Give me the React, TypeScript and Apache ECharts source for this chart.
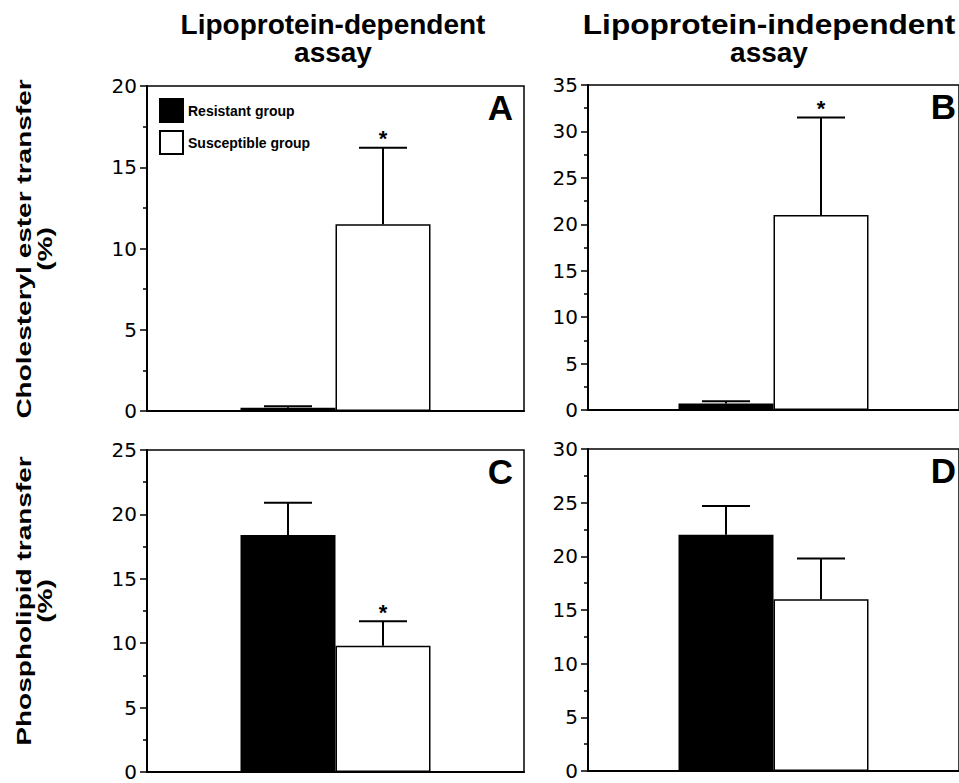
import React, { useEffect, useRef } from "react";
import * as echarts from "echarts";

// ---- data ----
const categories = ["Group"];
const panelLetters = ["A", "B", "C", "D"];
const seriesNames = ["Resistant group", "Susceptible group"];
const resistantMean = [0.2, 0.7, 18.4, 22.0];
const resistantSem = [0.1, 0.25, 2.5, 2.7];
const susceptibleMean = [11.5, 21.0, 9.8, 16.0];
const susceptibleSem = [4.7, 10.5, 1.9, 3.8];
const susceptibleSignificant = [true, true, true, false];
const yMax = [20, 35, 25, 30];
const yInterval = 5;
const columnTitleLine1 = ["Lipoprotein-dependent", "Lipoprotein-independent"];
const columnTitleLine2 = ["assay", "assay"];
const rowTitleLine1 = ["Cholesteryl ester transfer", "Phospholipid transfer"];
const rowTitleLine2 = ["(%)", "(%)"];

// ---- layout ----
const GRIDS = [
  { left: 147, top: 86, width: 377, height: 325 },
  { left: 588, top: 85, width: 379, height: 325 },
  { left: 147, top: 450, width: 377, height: 322 },
  { left: 588, top: 449, width: 379, height: 322 },
];
const BAR_W = 95;
const CAP_W = 48;
const FONT = "'Liberation Sans', Arial, Helvetica, sans-serif";

export default function App() {
  const ref = useRef<HTMLDivElement>(null);
  useEffect(() => {
    const chart = echarts.init(ref.current!, null, { renderer: "svg" });

    const grid = GRIDS.map((g) => ({
      ...g,
      show: true,
      borderColor: "#000",
      borderWidth: 1.5,
      backgroundColor: "transparent",
      containLabel: false,
    }));

    const xAxis = GRIDS.map((_, i) => ({
      type: "category",
      gridIndex: i,
      data: categories,
      axisLine: { show: true, lineStyle: { color: "#000", width: 2 } },
      axisTick: { show: false },
      axisLabel: { show: false },
      splitLine: { show: false },
    }));

    const yAxis = GRIDS.map((_, i) => ({
      type: "value",
      gridIndex: i,
      min: 0,
      max: yMax[i],
      interval: yInterval,
      axisLine: { show: true, lineStyle: { color: "#000", width: 2 } },
      axisTick: { show: true, length: 7, lineStyle: { color: "#000", width: 1.5 } },
      minorTick: { show: true, splitNumber: 2, length: 4, lineStyle: { color: "#000", width: 1.5 } },
      axisLabel: { color: "#000", fontSize: 20, fontFamily: "'DejaVu Sans', sans-serif", margin: 10 },
      splitLine: { show: false },
    }));

    const errSeries = (i: number, side: number, mean: number, sem: number, sig: boolean) => ({
      type: "custom",
      xAxisIndex: i,
      yAxisIndex: i,
      z: 5,
      silent: true,
      clip: false,
      data: [[0, mean, sem, sig ? 1 : 0]],
      renderItem: (params: any, api: any) => {
        const c = api.value(0);
        const m = api.value(1);
        const s = api.value(2);
        const top = api.coord([c, m]);
        const hi = api.coord([c, m + s]);
        const x = top[0] + (side * BAR_W) / 2;
        const children: any[] = [
          { type: "line", shape: { x1: x, y1: top[1], x2: x, y2: hi[1] }, style: { stroke: "#000", lineWidth: 2 } },
          { type: "line", shape: { x1: x - CAP_W / 2, y1: hi[1], x2: x + CAP_W / 2, y2: hi[1] }, style: { stroke: "#000", lineWidth: 2 } },
        ];
        if (api.value(3) === 1) {
          children.push({
            type: "text",
            x: x,
            y: hi[1] - 9,
            style: { text: "*", fill: "#000", font: `bold 22px ${FONT}`, align: "center", verticalAlign: "middle" },
          });
        }
        return { type: "group", children };
      },
    });

    const series: any[] = [];
    GRIDS.forEach((_, i) => {
      series.push({
        name: seriesNames[0],
        type: "bar",
        xAxisIndex: i,
        yAxisIndex: i,
        barWidth: BAR_W,
        barGap: "0%",
        itemStyle: { color: "#000", borderColor: "#000", borderWidth: 1.5 },
        data: [resistantMean[i]],
      });
      series.push({
        name: seriesNames[1],
        type: "bar",
        xAxisIndex: i,
        yAxisIndex: i,
        barWidth: BAR_W,
        barGap: "0%",
        itemStyle: { color: "#fff", borderColor: "#000", borderWidth: 1.5 },
        data: [susceptibleMean[i]],
      });
      series.push(errSeries(i, -1, resistantMean[i], resistantSem[i], false));
      series.push(errSeries(i, 1, susceptibleMean[i], susceptibleSem[i], susceptibleSignificant[i]));
    });

    const graphic: any[] = [];
    GRIDS.forEach((g, i) => {
      graphic.push({
        type: "text",
        x: g.left + g.width - 11,
        y: g.top + 21,
        style: { text: panelLetters[i], fill: "#000", font: `bold 35px ${FONT}`, align: "right", verticalAlign: "middle" },
      });
    });
    const titleX = [333, 769];
    const titleScale = [1, 1.13];
    [0, 1].forEach((k) => {
      graphic.push({
        type: "text",
        x: titleX[k],
        y: 24,
        scaleX: titleScale[k],
        style: { text: columnTitleLine1[k], fill: "#000", font: `bold 28px ${FONT}`, align: "center", verticalAlign: "middle" },
      });
      graphic.push({
        type: "text",
        x: titleX[k],
        y: 52,
        style: { text: columnTitleLine2[k], fill: "#000", font: `bold 28px ${FONT}`, align: "center", verticalAlign: "middle" },
      });
    });
    const rowY = [249, 601];
    [0, 1].forEach((k) => {
      graphic.push({
        type: "text",
        x: 24,
        y: rowY[k],
        rotation: Math.PI / 2,
        scaleX: 1.4,
        style: { text: rowTitleLine1[k], fill: "#000", font: `bold 20px ${FONT}`, align: "center", verticalAlign: "middle" },
      });
      graphic.push({
        type: "text",
        x: 45.5,
        y: rowY[k],
        rotation: Math.PI / 2,
        scaleX: 1.4,
        style: { text: rowTitleLine2[k], fill: "#000", font: `bold 20px ${FONT}`, align: "center", verticalAlign: "middle" },
      });
    });

    chart.setOption({
      animation: false,
      backgroundColor: "#fff",
      grid,
      xAxis,
      yAxis,
      legend: {
        data: seriesNames,
        orient: "vertical",
        left: 159,
        top: 98,
        padding: 0,
        itemWidth: 23,
        itemHeight: 23,
        itemGap: 7,
        icon: "rect",
        selectedMode: false,
        textStyle: { color: "#000", fontSize: 14, fontWeight: "bold", fontFamily: FONT },
      },
      graphic,
      series,
    });
    return () => chart.dispose();
  }, []);
  return <div ref={ref} style={{ position: "fixed", left: 0, top: 0, width: 959, height: 783 }} />;
}
